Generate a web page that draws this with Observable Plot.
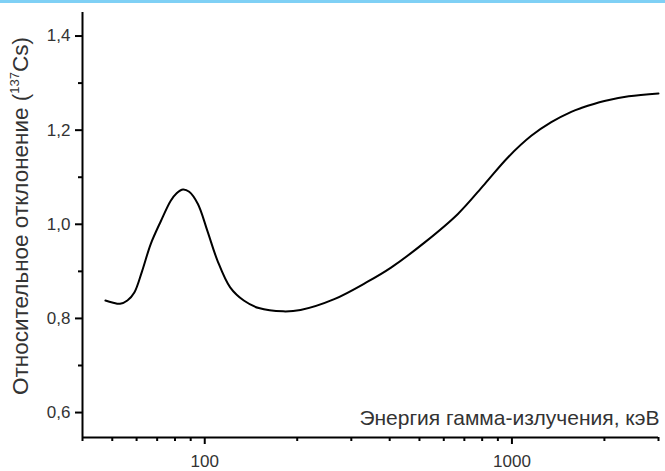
<!DOCTYPE html>
<html>
<head>
<meta charset="utf-8">
<script src="https://cdn.jsdelivr.net/npm/d3@7"></script>
<script src="https://cdn.jsdelivr.net/npm/@observablehq/plot@0.6"></script>
<style>
  html, body { margin: 0; padding: 0; background: #fff; }
  #wrap { position: relative; width: 665px; height: 471px; overflow: hidden; }
  #bar { position: absolute; left: 0; top: 0; width: 665px; height: 3px; background: #7fd0f5; }
</style>
</head>
<body>
<div id="wrap"><div id="bar"></div></div>
<script>
// Energy of gamma radiation, keV
const energy = [47.5, 50, 53, 56, 59, 62.5, 66.7, 72, 77.5, 81, 85, 89, 95, 102, 110, 121, 134, 150, 180, 205, 264, 339, 404, 519, 667, 814, 970, 1156, 1343, 1560, 1680, 2000, 2400, 3000];
// Relative deviation (relative to 137Cs)
const deviation = [0.838, 0.834, 0.831, 0.838, 0.855, 0.900, 0.958, 1.007, 1.050, 1.066, 1.074, 1.069, 1.043, 0.986, 0.923, 0.866, 0.838, 0.822, 0.815, 0.818, 0.841, 0.878, 0.908, 0.961, 1.022, 1.085, 1.142, 1.188, 1.217, 1.239, 1.247, 1.262, 1.272, 1.278];

const yMajor = [0.6, 0.8, 1.0, 1.2, 1.4];
const yMinor = [0.7, 0.9, 1.1, 1.3];
const xMajor = [100, 1000];
const xMinor = [40, 50, 60, 70, 80, 90, 200, 300, 400, 500, 600, 700, 800, 900, 2000, 3000];
const xTitle = "Энергия гамма-излучения, кэВ";
const yTitleMain = "Относительное отклонение (";
const yTitleSup = "137";
const yTitleEnd = "Cs)";

const rows = energy.map((e, i) => ({e, d: deviation[i]}));
const fmt = d => d.toFixed(1).replace(".", ",");
const FONT = "'Liberation Sans', Arial, sans-serif";

const chart = Plot.plot({
  width: 665,
  height: 471,
  marginLeft: 82,
  marginRight: 7,
  marginTop: 12,
  marginBottom: 34,
  style: {fontFamily: FONT, background: "transparent"},
  x: {type: "log", domain: [40, 3000]},
  y: {domain: [0.547, 1.45]},
  marks: [
    Plot.axisY(yMajor, {tickSize: 7, tickPadding: 5, strokeWidth: 2, stroke: "#000", tickFormat: fmt, fontSize: 17, fill: "#333", label: null}),
    Plot.axisY(yMinor, {tickSize: 4, strokeWidth: 2, stroke: "#000", tickFormat: () => "", label: null}),
    Plot.axisX(xMajor, {tickSize: 7, tickPadding: 10, strokeWidth: 2, stroke: "#000", tickFormat: d => String(d), fontSize: 17, fill: "#333", label: null}),
    Plot.axisX(xMinor, {tickSize: 4, strokeWidth: 2, stroke: "#000", tickFormat: () => "", label: null}),
    Plot.ruleX([40], {stroke: "#000", strokeWidth: 2}),
    Plot.ruleY([0.547], {stroke: "#000", strokeWidth: 2}),
    Plot.line(rows, {x: "e", y: "d", curve: "catmull-rom", stroke: "#000", strokeWidth: 2}),
    Plot.text([xTitle], {frameAnchor: "bottom-right", dx: 1, dy: -13, fontSize: 21, fill: "#333"})
  ]
});

const svg = d3.select(chart);
const t = svg.append("text")
  .attr("transform", "translate(28,216) rotate(-90)")
  .attr("text-anchor", "middle")
  .attr("font-size", 22.5)
  .attr("fill", "#333")
  .attr("font-family", FONT);
t.append("tspan").text(yTitleMain);
t.append("tspan").attr("font-size", 13).attr("dy", -9).text(yTitleSup);
t.append("tspan").attr("dy", 9).text(yTitleEnd);

document.getElementById("wrap").prepend(chart);
</script>
</body>
</html>
